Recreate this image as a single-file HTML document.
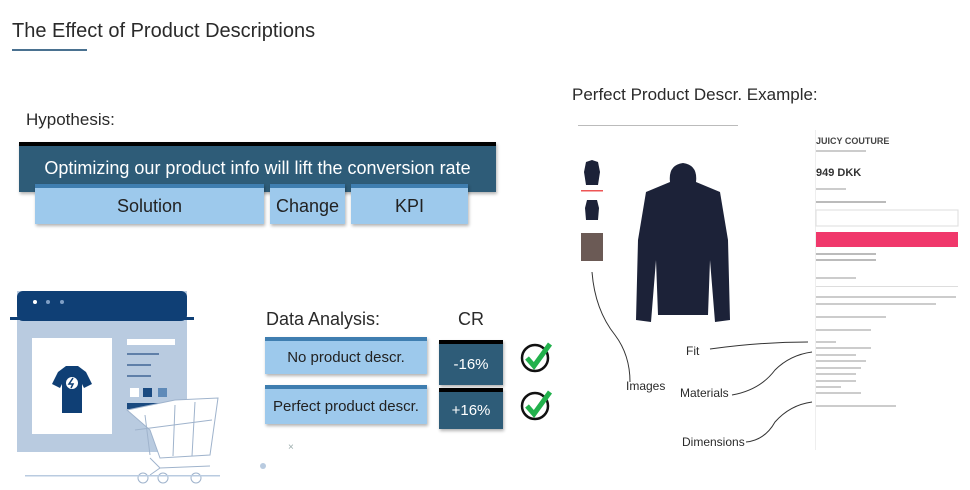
<!DOCTYPE html>
<html><head><meta charset="utf-8"><style>
body{margin:0;width:970px;height:490px;background:#fff;position:relative;overflow:hidden;font-family:"Liberation Sans",sans-serif}
.a{position:absolute}
.lt{font-family:"Liberation Sans",sans-serif;color:#2a2a2a}
.box{position:absolute;display:flex;align-items:center;justify-content:center;box-sizing:border-box;box-shadow:1px 2px 3px rgba(0,0,0,.3)}
</style></head><body>
<div class="a lt" style="left:12px;top:20px;font-size:20px">The Effect of Product Descriptions</div>
<div class="a" style="left:12px;top:49px;width:75px;height:2px;background:#4a7190"></div>

<div class="a lt" style="left:26px;top:110px;font-size:17px">Hypothesis:</div>
<div class="box" style="left:19px;top:142px;width:477px;height:50px;background:#2e5c78;border-top:4px solid #000;color:#fff;font-size:18px;align-items:flex-start;padding-top:12px">Optimizing our product info will lift the conversion rate</div>
<div class="box" style="left:35px;top:184px;width:229px;height:40px;background:#9dc9ec;border-top:4px solid #3f7eb0;font-size:18px;color:#222">Solution</div>
<div class="box" style="left:270px;top:184px;width:75px;height:40px;background:#9dc9ec;border-top:4px solid #3f7eb0;font-size:18px;color:#222">Change</div>
<div class="box" style="left:351px;top:184px;width:117px;height:40px;background:#9dc9ec;border-top:4px solid #3f7eb0;font-size:18px;color:#222">KPI</div>

<svg class="a" style="left:0;top:280px" width="240" height="205">
<rect x="17" y="11" width="170" height="161" fill="#b9cbe0"/>
<rect x="17" y="11" width="170" height="30" rx="6" fill="#0f3f75"/>
<rect x="10" y="37" width="184" height="3" fill="#0f3f75"/>
<circle cx="35" cy="22" r="2" fill="#fff"/><circle cx="48" cy="22" r="2" fill="#7f9fc6"/><circle cx="62" cy="22" r="2" fill="#7f9fc6"/>
<rect x="32" y="58" width="80" height="96" fill="#fff"/>
<path d="M58 92 L66 86 L78 86 L86 92 L92 104 L84 108 L82 104 L82 133 L62 133 L62 104 L60 108 L52 104 Z" fill="#0f3f75"/>
<circle cx="72" cy="103" r="6" fill="#fff"/><path d="M73 98 L69 104 L73 104 L71 108" stroke="#0f3f75" stroke-width="1.5" fill="none"/>
<rect x="127" y="59" width="48" height="6" fill="#fff"/>
<rect x="127" y="73" width="32" height="2" fill="#5f7fa8"/><rect x="127" y="84" width="24" height="2" fill="#5f7fa8"/><rect x="127" y="95" width="24" height="2" fill="#5f7fa8"/>
<rect x="130" y="108" width="9" height="9" fill="#fff"/><rect x="143" y="108" width="9" height="9" fill="#1a4a80"/><rect x="158" y="108" width="9" height="9" fill="#5f8ab8"/>
<rect x="127" y="123" width="40" height="6" fill="#1a4a80"/>
<path d="M127 130 L175 120 L218 118 L210 175 L160 178 L150 150 Z" fill="#fff" stroke="#9fb3cc"/>
<path d="M135 150 L212 140 M145 135 L150 175 M175 125 L173 176 M195 122 L192 176 M150 178 L160 188 L210 186 M160 188 L150 195" stroke="#9fb3cc" fill="none"/>
<circle cx="143" cy="198" r="5" fill="#fff" stroke="#9fb3cc"/><circle cx="163" cy="198" r="5" fill="#fff" stroke="#9fb3cc"/><circle cx="196" cy="198" r="5" fill="#fff" stroke="#9fb3cc"/>
<rect x="25" y="195" width="195" height="1.5" fill="#b9cbe0"/>
</svg>
<div class="a" style="left:288px;top:442px;font-size:10px;color:#9aa">×</div>
<div class="a" style="left:260px;top:463px;width:6px;height:6px;border-radius:50%;background:#b9cbe0"></div>

<div class="a lt" style="left:266px;top:309px;font-size:18px">Data Analysis:</div>
<div class="a lt" style="left:458px;top:309px;font-size:18px">CR</div>
<div class="box" style="left:265px;top:337px;width:162px;height:37px;background:#9dc9ec;border-top:4px solid #3f7eb0;font-size:15px;color:#222">No product descr.</div>
<div class="box" style="left:439px;top:340px;width:64px;height:45px;background:#2e5c78;border-top:4px solid #000;color:#fff;font-size:15px">-16%</div>
<div class="box" style="left:265px;top:385px;width:162px;height:39px;background:#9dc9ec;border-top:4px solid #3f7eb0;font-size:15px;color:#222">Perfect product descr.</div>
<div class="box" style="left:439px;top:388px;width:64px;height:41px;background:#2e5c78;border-top:4px solid #000;color:#fff;font-size:15px">+16%</div>
<svg class="a" style="left:518px;top:338px" width="40" height="90">
<circle cx="17" cy="20" r="13" fill="none" stroke="#111" stroke-width="2.5"/><path d="M9 20 L16 28 L32 6" stroke="#22b14c" stroke-width="5" fill="none"/>
<circle cx="17" cy="68" r="13" fill="none" stroke="#111" stroke-width="2.5"/><path d="M9 68 L16 76 L32 54" stroke="#22b14c" stroke-width="5" fill="none"/>
</svg>

<div class="a lt" style="left:572px;top:85px;font-size:17px">Perfect Product Descr. Example:</div>
<svg class="a" style="left:570px;top:110px" width="400" height="350">
<rect x="8" y="15" width="160" height="1" fill="#bbb"/>
<path d="M14 62 L16 52 L22 50 L28 52 L30 62 L28 75 L16 75 Z" fill="#1c2238"/><rect x="11" y="80" width="22" height="1.5" fill="#e55"/>
<path d="M15 98 L17 90 L27 90 L29 98 L28 110 L16 110 Z" fill="#1c2238"/>
<rect x="11" y="123" width="22" height="28" fill="#6b5a55"/>
<path d="M100 72 Q98 55 113 53 Q128 55 126 72 L150 82 L158 130 L160 210 L145 212 L140 150 L138 205 L88 205 L86 150 L81 212 L66 210 L68 130 L76 82 Z" fill="#1c2238"/>
<rect x="245" y="20" width="1" height="320" fill="#eee"/>
<text x="246" y="34" font-size="9" font-weight="bold" fill="#444">JUICY COUTURE</text>
<rect x="246" y="40" width="50" height="2" fill="#ccc"/>
<text x="246" y="66" font-size="11" font-weight="bold" fill="#333">949 DKK</text>
<rect x="246" y="78" width="30" height="2" fill="#ccc"/><rect x="246" y="91" width="70" height="2" fill="#bbb"/>
<rect x="246" y="100" width="142" height="16" fill="#fff" stroke="#ddd"/>
<rect x="246" y="122" width="142" height="15" fill="#f0386b"/>
<rect x="246" y="143" width="60" height="2" fill="#bbb"/><rect x="246" y="149" width="60" height="2" fill="#bbb"/>
<rect x="246" y="167" width="40" height="2" fill="#ccc"/><rect x="246" y="176" width="142" height="1" fill="#ddd"/>
<rect x="246" y="186" width="140" height="2" fill="#ccc"/><rect x="246" y="193" width="120" height="2" fill="#ccc"/>
<rect x="246" y="206" width="70" height="2" fill="#ccc"/><rect x="246" y="219" width="55" height="2" fill="#ccc"/>
<rect x="246" y="231" width="20" height="2" fill="#ccc"/>
<rect x="246" y="237" width="55" height="2" fill="#ccc"/><rect x="246" y="244" width="40" height="2" fill="#ccc"/><rect x="246" y="250" width="50" height="2" fill="#ccc"/><rect x="246" y="257" width="45" height="2" fill="#ccc"/><rect x="246" y="263" width="40" height="2" fill="#ccc"/><rect x="246" y="270" width="40" height="2" fill="#ccc"/><rect x="246" y="276" width="25" height="2" fill="#ccc"/><rect x="246" y="282" width="45" height="2" fill="#ccc"/>
<rect x="246" y="295" width="80" height="2" fill="#ccc"/>
<path d="M22 162 Q25 200 45 225 Q60 245 60 272" stroke="#333" fill="none"/>
<path d="M140 239 Q190 232 238 232" stroke="#333" fill="none"/>
<path d="M162 285 Q190 280 205 260 Q220 245 242 242" stroke="#333" fill="none"/>
<path d="M176 332 Q195 330 205 312 Q220 295 242 292" stroke="#333" fill="none"/>
</svg>
<div class="a lt" style="left:686px;top:344px;font-size:12px">Fit</div>
<div class="a lt" style="left:626px;top:379px;font-size:12px">Images</div>
<div class="a lt" style="left:680px;top:386px;font-size:12px">Materials</div>
<div class="a lt" style="left:682px;top:435px;font-size:12px">Dimensions</div>
</body></html>
